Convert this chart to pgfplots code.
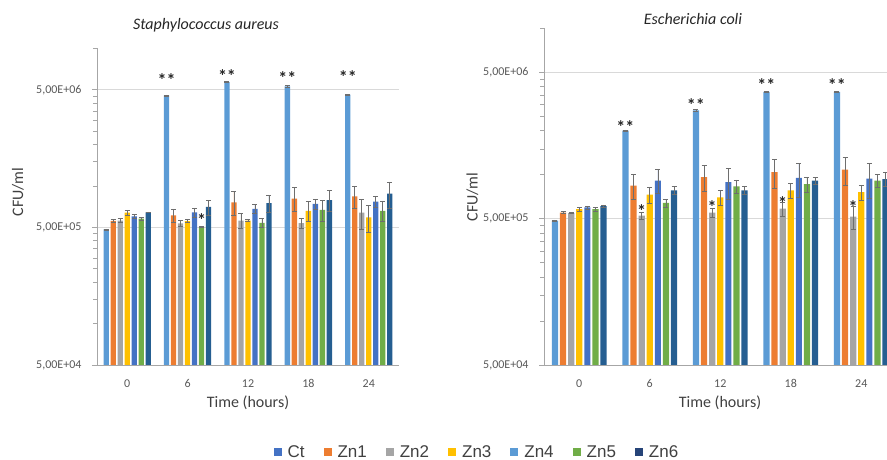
\documentclass[border=0pt]{standalone}
\usepackage{pgfplots}
\usepackage{pgfplotstable}
\pgfplotsset{compat=1.18}
\usepackage{fontspec}
\setmainfont{Carlito}
\newfontfamily\arialf{Liberation Sans}

\definecolor{cCt}{HTML}{5B9BD5}
\definecolor{cZa}{HTML}{ED7D31}
\definecolor{cZb}{HTML}{A5A5A5}
\definecolor{cZc}{HTML}{FFC000}
\definecolor{cZd}{HTML}{4472C4}
\definecolor{cZe}{HTML}{70AD47}
\definecolor{cZf}{HTML}{255E91}
\definecolor{lgCt}{HTML}{4472C4}
\definecolor{lgZd}{HTML}{5B9BD5}
\definecolor{lgZf}{HTML}{264478}
\definecolor{axgray}{HTML}{A6A6A6}
\definecolor{gridgray}{HTML}{D9D9D9}
\definecolor{errgray}{HTML}{6E6E6E}
\definecolor{tickgray}{HTML}{595959}
\definecolor{labgray}{HTML}{404040}

\pgfplotstableread{
x Ct eCt Zn1 eZn1 Zn2 eZn2 Zn3 eZn3 Zn4 eZn4 Zn5 eZn5 Zn6 eZn6
0 483000 5000 558000 10000 560000 20000 640000 25000 600000 20000 578000 15000 643000 5000
1 4540000 50000 610000 70000 535000 25000 555000 15000 643000 50000 505000 5000 703000 87000
2 5680000 50000 760000 150000 560000 70000 560000 10000 680000 50000 540000 38000 750000 110000
3 5290000 50000 810000 160000 537000 45000 660000 110000 740000 60000 670000 120000 790000 140000
4 4600000 50000 840000 150000 640000 160000 590000 130000 770000 70000 660000 110000 880000 190000
}\leftdata

\pgfplotstableread{
x Ct eCt Zn1 eZn1 Zn2 eZn2 Zn3 eZn3 Zn4 eZn4 Zn5 eZn5 Zn6 eZn6
0 485000 5000 550000 10000 545000 5000 580000 15000 597000 15000 580000 15000 610000 10000
1 2000000 20000 840000 160000 524000 26000 730000 90000 910000 170000 640000 40000 780000 50000
2 2750000 30000 960000 190000 550000 40000 700000 80000 890000 210000 830000 90000 780000 50000
3 3680000 30000 1040000 230000 585000 65000 780000 90000 950000 250000 860000 100000 910000 50000
4 3680000 30000 1080000 230000 516000 94000 760000 90000 940000 250000 910000 90000 930000 100000
}\rightdata

\pgfplotsset{
  every axis/.append style={
    ymode=log, log origin y=infty,
    ymin=5e4, ymax=1e7, xmin=-0.5, xmax=4.5,
    scale only axis, enlargelimits=false, clip=false,
    xtick={0,1,2,3,4}, xticklabels={0,6,12,18,24},
    ytick={5e4,5e5,5e6},
    yticklabels={{5,00E+04},{5,00E+05},{5,00E+06}},
    minor ytick={1e5,1.5e5,2e5,2.5e5,3e5,3.5e5,4e5,4.5e5,1e6,1.5e6,2e6,2.5e6,3e6,3.5e6,4e6,4.5e6,1e7},
    axis lines*=left,
    axis line style={draw=axgray, line width=0.8pt},
    ymajorgrids, major grid style={draw=gridgray, line width=0.7pt},
    tick align=outside, ytick pos=left,
    xtick style={draw=none},
    ytick style={draw=axgray, line width=0.6pt},
    major tick length=5pt, minor tick length=4pt,
    ticklabel style={font=\fontsize{12}{14}\selectfont, text=tickgray},
    xticklabel style={yshift=-6pt},
    yticklabel style={xshift=-7pt},
  },
  errs/.style={
    /pgfplots/error bars/y dir=both,
    /pgfplots/error bars/y explicit,
    /pgfplots/error bars/error bar style={draw=errgray, line width=0.6pt},
    /pgfplots/error bars/error mark options={draw=errgray, rotate=90, mark size=2.5pt, line width=0.6pt}},
}
\newcommand{\sq}[1]{\fill[#1] (0pt,-4pt) rectangle (8pt,4pt);}
\tikzset{
  sig/.style={font=\bfseries\fontsize{18}{18}\selectfont, text=black!85, anchor=center, yshift=-7pt, inner sep=0pt},
}

\begin{document}
\begin{tikzpicture}
\useasboundingbox (0pt,0pt) rectangle (887pt,460pt);
\clip (0pt,0pt) rectangle (887pt,460pt);

% ---------- left: Staphylococcus aureus ----------
\begin{axis}[ybar, at={(97pt,95pt)}, anchor=south west,
  width=302pt, height=316.7pt, bar width=5.3pt,
  /pgf/number format/assume math mode=true,
  legend style={at={(1.258,-0.275)}, anchor=center, draw=none, fill=none,
    font=\arialf\fontsize{17}{19}\selectfont, text=labgray,
    legend columns=-1,
    /tikz/every odd column/.append style={column sep=4pt},
    /tikz/every even column/.append style={column sep=17pt}},
  legend cell align=left]
\addplot[draw=none, fill=cCt, bar shift=-21pt, legend image code/.code={\sq{lgCt}}, /pgfplots/errs] table[x=x,y=Ct,y error=eCt]{\leftdata};
\addplot[draw=none, fill=cZa, bar shift=-14pt, legend image code/.code={\sq{cZa}}, /pgfplots/errs] table[x=x,y=Zn1,y error=eZn1]{\leftdata};
\addplot[draw=none, fill=cZb, bar shift=-7pt, legend image code/.code={\sq{cZb}}, /pgfplots/errs] table[x=x,y=Zn2,y error=eZn2]{\leftdata};
\addplot[draw=none, fill=cZc, bar shift=0pt, legend image code/.code={\sq{cZc}}, /pgfplots/errs] table[x=x,y=Zn3,y error=eZn3]{\leftdata};
\addplot[draw=none, fill=cZd, bar shift=7pt, legend image code/.code={\sq{lgZd}}, /pgfplots/errs] table[x=x,y=Zn4,y error=eZn4]{\leftdata};
\addplot[draw=none, fill=cZe, bar shift=14pt, legend image code/.code={\sq{cZe}}, /pgfplots/errs] table[x=x,y=Zn5,y error=eZn5]{\leftdata};
\addplot[draw=none, fill=cZf, bar shift=21pt, legend image code/.code={\sq{lgZf}}, /pgfplots/errs] table[x=x,y=Zn6,y error=eZn6]{\leftdata};
\legend{Ct,Zn1,Zn2,Zn3,Zn4,Zn5,Zn6}
\node[sig] at (axis cs:0.652,6.6e6) {**};
\node[sig] at (axis cs:1.652,7.1e6) {**};
\node[sig] at (axis cs:2.652,6.8e6) {**};
\node[sig] at (axis cs:3.652,6.9e6) {**};
\node[sig] at (axis cs:1.232,6.35e5) {*};
\end{axis}

% ---------- right: Escherichia coli ----------
\begin{axis}[ybar, at={(544pt,95pt)}, anchor=south west,
  width=352.5pt, height=336.7pt, bar width=6.2pt,
  /pgf/number format/assume math mode=true]
\addplot[draw=none, fill=cCt, bar shift=-24.3pt, /pgfplots/errs] table[x=x,y=Ct,y error=eCt]{\rightdata};
\addplot[draw=none, fill=cZa, bar shift=-16.2pt, /pgfplots/errs] table[x=x,y=Zn1,y error=eZn1]{\rightdata};
\addplot[draw=none, fill=cZb, bar shift=-8.1pt, /pgfplots/errs] table[x=x,y=Zn2,y error=eZn2]{\rightdata};
\addplot[draw=none, fill=cZc, bar shift=0pt, /pgfplots/errs] table[x=x,y=Zn3,y error=eZn3]{\rightdata};
\addplot[draw=none, fill=cZd, bar shift=8.1pt, /pgfplots/errs] table[x=x,y=Zn4,y error=eZn4]{\rightdata};
\addplot[draw=none, fill=cZe, bar shift=16.2pt, /pgfplots/errs] table[x=x,y=Zn5,y error=eZn5]{\rightdata};
\addplot[draw=none, fill=cZf, bar shift=24.3pt, /pgfplots/errs] table[x=x,y=Zn6,y error=eZn6]{\rightdata};
\node[sig] at (axis cs:0.655,2.37e6) {**};
\node[sig] at (axis cs:1.655,3.35e6) {**};
\node[sig] at (axis cs:2.655,4.58e6) {**};
\node[sig] at (axis cs:3.655,4.58e6) {**};
\node[sig] at (axis cs:0.885,6.33e5) {*};
\node[sig] at (axis cs:1.885,6.74e5) {*};
\node[sig] at (axis cs:2.885,7.1e5) {*};
\node[sig] at (axis cs:3.885,6.67e5) {*};
\end{axis}

% titles and axis labels
\node[font=\itshape\fontsize{16}{18}\selectfont, text=black!85] at (206pt,435pt) {Staphylococcus aureus};
\node[font=\itshape\fontsize{16}{18}\selectfont, text=black!85] at (693pt,441pt) {Escherichia coli};
\node[font=\fontsize{16}{18}\selectfont, text=labgray] at (248pt,57pt) {Time (hours)};
\node[font=\fontsize{16}{18}\selectfont, text=labgray] at (720pt,57pt) {Time (hours)};
\node[font=\fontsize{16}{18}\selectfont, text=labgray, rotate=90] at (18pt,268pt) {CFU/ml};
\node[font=\fontsize{16}{18}\selectfont, text=labgray, rotate=90] at (472.5pt,263pt) {CFU/ml};
\end{tikzpicture}
\end{document}
